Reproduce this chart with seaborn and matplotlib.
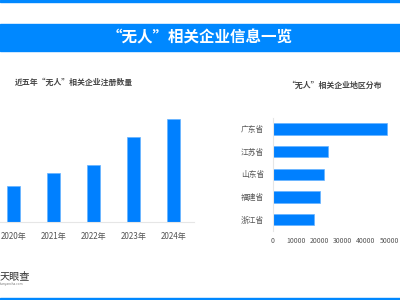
import seaborn as sns
import matplotlib.pyplot as plt

# data
years = ["2020年", "2021年", "2022年", "2023年", "2024年"]
counts = [3600, 4900, 5700, 8500, 10300]

provinces = ["广东省", "江苏省", "山东省", "福建省", "浙江省"]
prov_counts = [49000, 23800, 21900, 20100, 17800]
xticks = [0, 10000, 20000, 30000, 40000, 50000]

blue = "#0080ff"
W, H = 400, 300

sns.set_style("white")
plt.rcParams['font.family'] = ['Noto Sans CJK SC', 'DejaVu Sans']


def rect(x0, y0, x1, y1):
    # pixel box (top-left origin) -> figure fraction
    return [x0 / W, (H - y1) / H, (x1 - x0) / W, (y1 - y0) / H]


fig = plt.figure(figsize=(4, 3), dpi=100)

# header band and borders
fig.patches.append(plt.Rectangle((0, (H - 50.5) / H), 1, 26.5 / H, transform=fig.transFigure,
                                 color="#0088ff", zorder=0))
fig.patches.append(plt.Rectangle((0, (H - 2) / H), 1, 2 / H, transform=fig.transFigure,
                                 color="#0088ff", zorder=0))
fig.patches.append(plt.Rectangle((0, 0), 1, 2.5 / H, transform=fig.transFigure,
                                 color="#0088ff", zorder=0))
fig.text(0.5, (H - 37.5) / H, "“无人”相关企业信息一览", color="white", fontsize=11.2,
         fontweight="bold", ha="center", va="center")

# left: yearly registrations
ax1 = fig.add_axes(rect(-6.5, 110, 193.5, 222))
sns.barplot(x=years, y=counts, color=blue, saturation=1, width=0.33,
            edgecolor="#66b3ff", linewidth=0.5, ax=ax1)
ax1.set_ylim(0, 11200)
ax1.set_yticks([])
ax1.set_xlabel("")
ax1.set_ylabel("")
for s in ["top", "right", "left"]:
    ax1.spines[s].set_visible(False)
ax1.spines["bottom"].set_color("#e6e6e6")
ax1.tick_params(axis="x", length=0, pad=7, labelsize=5.8, labelcolor="#555555")
fig.text(15 / W, (H - 82.5) / H, "近五年“无人”相关企业注册数量", fontsize=5.7,
         fontweight="bold", color="#444444", ha="left", va="center")

# right: regional distribution
ax2 = fig.add_axes(rect(273, 117.7, 389, 230.8))
sns.barplot(x=prov_counts, y=provinces, orient="h", color=blue, saturation=1, width=0.5,
            edgecolor="#66b3ff", linewidth=0.5, ax=ax2)
ax2.set_xlim(0, 50000)
ax2.set_xticks(xticks)
ax2.set_xticklabels([str(t) for t in xticks])
ax2.set_xlabel("")
ax2.set_ylabel("")
for s in ["top", "right", "bottom"]:
    ax2.spines[s].set_visible(False)
ax2.spines["left"].set_color("#e6e6e6")
ax2.tick_params(axis="y", length=0, pad=6.5, labelsize=5.6, labelcolor="#555555")
ax2.tick_params(axis="x", length=0, pad=4.5, labelsize=5, labelcolor="#555555")
fig.text(335 / W, (H - 85) / H, "“无人”相关企业地区分布", fontsize=5.7,
         fontweight="bold", color="#444444", ha="center", va="center")

# logo
fig.text(0, (H - 276.5) / H, "天眼查", fontsize=7.3, color="#333333",
         ha="left", va="center")
fig.text(0, (H - 284.5) / H, "tianyancha.com", fontsize=2.3, color="#777777",
         ha="left", va="center")

fig.savefig("out.png", dpi=100)
